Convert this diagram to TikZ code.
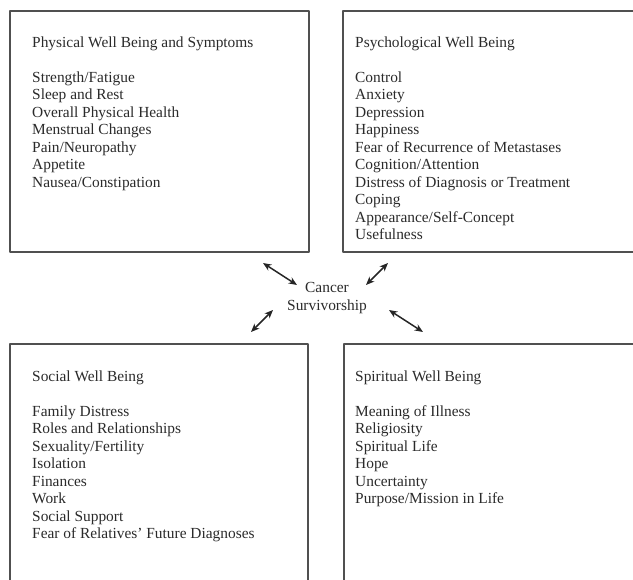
\documentclass[tikz,border=0pt]{standalone}
\usepackage{fontspec}
\setmainfont{Liberation Serif}
\usetikzlibrary{arrows.meta, positioning}

\definecolor{boxgray}{HTML}{505050}
\definecolor{textgray}{HTML}{2A2A2A}

\begin{document}
\begin{tikzpicture}[x=1pt, y=-1pt, >=Stealth, line cap=round, line join=round]
	%======================
	% STYLES
	%======================
	\tikzset{
		panel/.style={draw=boxgray, line width=1.6pt, rectangle, inner sep=0pt, anchor=north west},
		list/.style={text=textgray, align=left, inner sep=0pt, font=\fontsize{15.4}{17.5}\selectfont},
		hub/.style={text=textgray, align=center, inner sep=0pt, font=\fontsize{15.4}{17.5}\selectfont},
		link/.style={<->, line width=1.5pt, black!85, >={Stealth[length=8.5pt, width=7pt]}}
	}
	
	\useasboundingbox (0,0) rectangle (633,580);
	\clip (0,0) rectangle (633,580);
	
	% four panels
	\node[panel, minimum width=299pt, minimum height=241pt] (phys)   at (9,10)   {};
	\node[panel, minimum width=303pt, minimum height=241pt] (psych)  at (342,10) {};
	\node[panel, minimum width=298pt, minimum height=257pt] (social) at (9,343)  {};
	\node[panel, minimum width=303pt, minimum height=257pt] (spirit) at (343,343) {};
	
	% panel texts
	\node[list, below right=26.6pt and 23pt of phys.north west] (physlist) {%
		Physical Well Being and Symptoms\\[17.5pt]
		Strength/Fatigue\\ Sleep and Rest\\ Overall Physical Health\\ Menstrual Changes\\
		Pain/Neuropathy\\ Appetite\\ Nausea/Constipation};
	\node[list, below right=26.6pt and 13pt of psych.north west] (psychlist) {%
		Psychological Well Being\\[17.5pt]
		Control\\ Anxiety\\ Depression\\ Happiness\\ Fear of Recurrence of Metastases\\
		Cognition/Attention\\ Distress of Diagnosis or Treatment\\ Coping\\
		Appearance/Self-Concept\\ Usefulness};
	\node[list, below right=27.6pt and 23pt of social.north west] (sociallist) {%
		Social Well Being\\[17.5pt]
		Family Distress\\ Roles and Relationships\\ Sexuality/Fertility\\ Isolation\\
		Finances\\ Work\\ Social Support\\ Fear of Relatives’ Future Diagnoses};
	\node[list, below right=27.6pt and 12pt of spirit.north west] (spiritlist) {%
		Spiritual Well Being\\[17.5pt]
		Meaning of Illness\\ Religiosity\\ Spiritual Life\\ Hope\\ Uncertainty\\
		Purpose/Mission in Life};
	
	% centre
	\node[hub] (surv) at (327,298) {Cancer\\Survivorship};
	
	% arrow ends
	\coordinate (tlA) at (263,263); \coordinate (tlB) at (297,285);
	\coordinate (trA) at (388,263); \coordinate (trB) at (366,285);
	\coordinate (blA) at (273,310); \coordinate (blB) at (251,332);
	\coordinate (brA) at (389,310); \coordinate (brB) at (423,332);
	
	\draw[link] (tlA) -- (tlB);
	\draw[link] (trA) -- (trB);
	\draw[link] (blA) -- (blB);
	\draw[link] (brA) -- (brB);
\end{tikzpicture}
\end{document}
